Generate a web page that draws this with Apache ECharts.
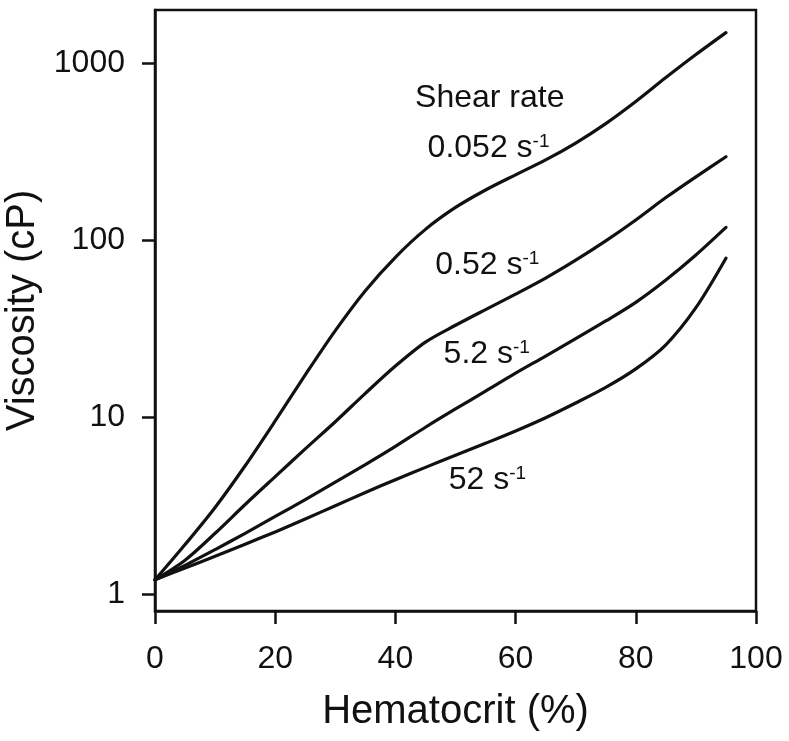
<!DOCTYPE html>
<html>
<head>
<meta charset="utf-8">
<script src="https://cdn.jsdelivr.net/npm/echarts@6/dist/echarts.min.js"></script>
<style>html,body{margin:0;padding:0;background:#fff}#c{width:789px;height:741px}</style>
</head>
<body>
<div id="c"></div>
<script>
// Hematocrit (%) sample points
const hematocrit = [0,5,10,15,20,25,30,35,40,45,50,55,60,65,70,75,80,85,90,95];
// Viscosity (cP) at each shear rate
const visc_0052 = [1.2,1.9,3.08,5.3,9.5,17.3,30.8,51.8,80,115,153,192,234,284,354,456,608,830,1120,1490];
const visc_052  = [1.2,1.55,2.2,3.2,4.6,6.6,9.4,13.6,19.4,26.5,33,40.5,49.5,61,77,99,130,174,228,296];
const visc_52   = [1.2,1.45,1.78,2.2,2.74,3.41,4.28,5.38,6.82,8.75,11.1,14.0,17.7,22.1,27.7,34.9,44.5,59.5,82.4,118];
const visc_520  = [1.2,1.4,1.63,1.91,2.24,2.65,3.15,3.74,4.42,5.19,6.07,7.1,8.34,9.91,12.0,14.7,18.7,25.6,41.5,79];
const seriesNames = ['0.052 s-1','0.52 s-1','5.2 s-1','52 s-1'];

// Tick labels
const xTicks = [0,20,40,60,80,100];
const yTicks = [1,10,100,1000];

// Annotation texts and their anchor points (data coordinates)
const annText = ['Shear rate','0.052 s','0.52 s','5.2 s','52 s'];
const annSup  = ['','-1','-1','-1','-1'];
const annX    = [55.7,55.5,55.3,55.2,55.3];
const annY    = [631,332,72.3,22.7,4.4];

const ink = '#111';
const font = '"Liberation Sans", Arial, Helvetica, sans-serif';

const chart = echarts.init(document.getElementById('c'), null, {renderer:'canvas'});

const curves = [visc_0052, visc_052, visc_52, visc_520].map((arr, i) => ({
  name: seriesNames[i],
  type: 'line',
  data: hematocrit.map((h, j) => [h, arr[j]]),
  showSymbol: false,
  smooth: 0.3,
  lineStyle: {color: ink, width: 3.2, cap: 'round', join: 'round'},
  itemStyle: {color: ink},
  silent: true,
  z: 3
}));

const annotations = {
  type: 'scatter',
  symbolSize: 0,
  silent: true,
  z: 5,
  itemStyle: {opacity: 1, color: ink},
  data: annText.map((t, i) => ({value: [annX[i], annY[i]], text: t, sup: annSup[i]})),
  label: {
    show: true,
    position: 'inside',
    opacity: 1,
    formatter: p => p.data.sup ? `{b|${p.data.text}}{s|${p.data.sup}}` : `{b|${p.data.text}}`,
    rich: {
      b: {fontSize: 32, lineHeight: 32, color: ink, fontFamily: font, opacity: 1},
      s: {fontSize: 19, lineHeight: 19, color: ink, fontFamily: font, verticalAlign: 'top', opacity: 1}
    }
  }
};

chart.setOption({
  animation: false,
  backgroundColor: '#fff',
  grid: {
    left: 155, right: 33, top: 10, bottom: 130,
    show: true, borderColor: ink, borderWidth: 2.5, backgroundColor: 'transparent',
    containLabel: false, outerBoundsMode: 'none'
  },
  xAxis: {
    type: 'value', min: 0, max: 100, interval: 20,
    name: 'Hematocrit (%)', nameLocation: 'middle', nameGap: 81,
    nameTextStyle: {fontSize: 40, color: ink, fontFamily: font},
    axisLine: {show: true, lineStyle: {color: ink, width: 2.5}},
    axisTick: {show: true, inside: false, length: 13, lineStyle: {color: ink, width: 2.5}, customValues: xTicks},
    axisLabel: {fontSize: 32, color: ink, fontFamily: font, margin: 32, customValues: xTicks,
                formatter: v => String(Math.round(v))},
    splitLine: {show: false}
  },
  yAxis: {
    type: 'log', logBase: 10, min: 0.8, max: 2000,
    name: 'Viscosity (cP)', nameLocation: 'middle', nameGap: 94, nameRotate: 90,
    nameTextStyle: {fontSize: 40, color: ink, fontFamily: font},
    axisLine: {show: true, lineStyle: {color: ink, width: 2.5}},
    axisTick: {show: true, inside: false, length: 13, lineStyle: {color: ink, width: 2.5}, customValues: yTicks},
    axisLabel: {fontSize: 32, color: ink, fontFamily: font, margin: 30, customValues: yTicks,
                formatter: v => String(Math.round(v))},
    splitLine: {show: false},
    minorTick: {show: false}
  },
  series: [...curves, annotations]
});
</script>
</body>
</html>
